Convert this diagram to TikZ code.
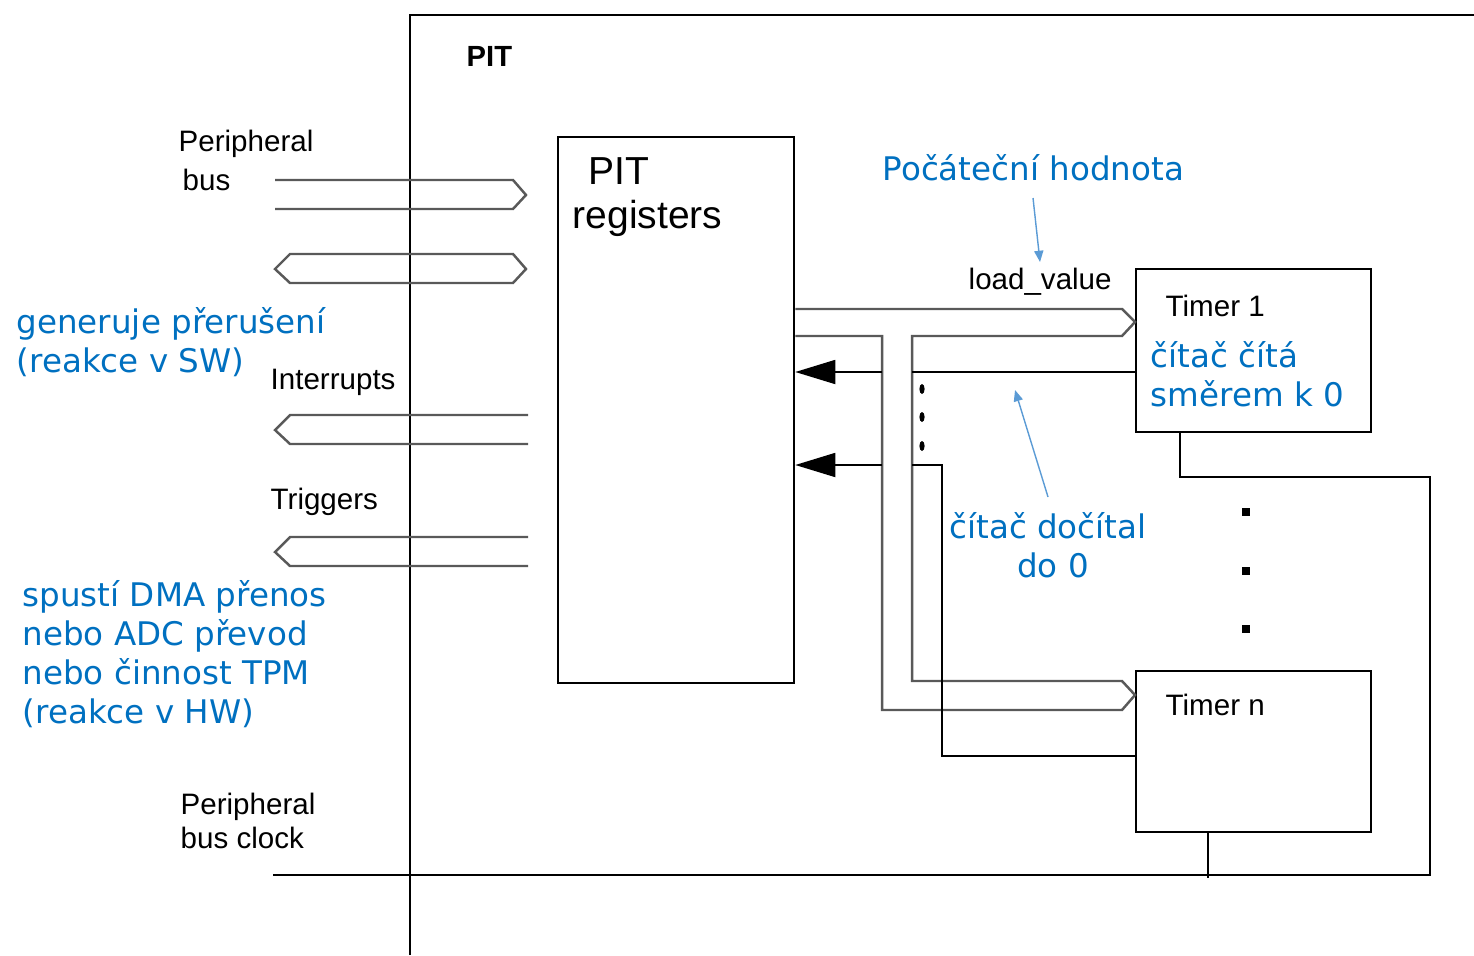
\documentclass[tikz,border=0pt]{standalone}
\usepackage{fontspec}
\setmainfont{Liberation Sans}
\newfontfamily\bluefont{DejaVu Sans}
\usetikzlibrary{arrows.meta}
\definecolor{annblue}{RGB}{0,112,192}
\definecolor{arrblue}{RGB}{91,155,213}
\begin{document}
\begin{tikzpicture}[x=0.01cm,y=-0.01cm,
  wire/.style={line width=0.6pt,black},
  bus/.style={line width=0.7pt,black!65,line join=miter},
  lbl/.style={inner sep=0pt,anchor=base west,font=\fontsize{8.4}{10}\selectfont},
  big/.style={inner sep=0pt,anchor=base west,font=\fontsize{11.1}{13}\selectfont},
  ann/.style={inner sep=0pt,anchor=base west,text=annblue,font=\bluefont\fontsize{9.25}{11}\selectfont},
  annc/.style={ann,anchor=base},
  box/.style={draw,line width=0.6pt,inner sep=0pt,anchor=north west},
  irq/.style={wire,-{Triangle[length=11.4pt,width=6.8pt]}},
  note/.style={line width=0.4pt,arrblue,-{Triangle[length=3.2pt,width=2.6pt]}}]
\useasboundingbox (0,0) rectangle (1474,955);

% outer PIT block
\coordinate (pitbl) at (410,955);
\coordinate (pittl) at (410,15);
\coordinate (pittr) at (1474,15);
\draw[wire] (pitbl) -- (pittl) -- (pittr);
\node[lbl,font=\bfseries\fontsize{8.3}{10}\selectfont] (pitlbl) at (466,67) {PIT};

% PIT registers
\node[box,minimum width=2.36cm,minimum height=5.46cm] (regs) at (557,136) {};
\node[big] (regs1) at (588,185) {PIT};
\node[big] (regs2) at (572,229) {registers};

% timers
\node[box,minimum width=2.35cm,minimum height=1.63cm] (t1) at (1135,268) {};
\node[lbl] (t1lbl) at (1165,317) {Timer 1};
\node[box,minimum width=2.35cm,minimum height=1.61cm] (tn) at (1135,670) {};
\node[lbl] (tnlbl) at (1165,715) {Timer n};

% dots between timers
\foreach \yy [count=\i] in {512,571,629}
  \fill (1242,\yy-4) rectangle (1250,\yy+4);
\foreach \yy in {389,417,446}
  \fill (922,\yy) ellipse (2.6 and 5);

% left labels
\node[lbl] (pb1) at (178,152) {Peripheral};
\node[lbl] (pb2) at (182,191) {bus};
\node[lbl] (intl) at (270,389) {Interrupts};
\node[lbl] (trgl) at (270,509) {Triggers};
\node[lbl] (pc1) at (180,814) {Peripheral};
\node[lbl] (pc2) at (180,848) {bus clock};
\node[lbl] (lv) at (968,290) {load\_value};

% left buses
\draw[bus] (275,180) -- (513,180) -- (526,195) -- (513,209) -- (275,209);
\draw[bus] (290,254) -- (513,254) -- (526,269) -- (513,283) -- (290,283) -- (275,269) -- cycle;
\draw[bus] (528,415) -- (290,415) -- (275,430) -- (290,444) -- (528,444);
\draw[bus] (528,537) -- (290,537) -- (275,552) -- (290,566) -- (528,566);

% load_value bus to timers
\draw[bus] (regs.east |- 0,309) -- (1122,309) -- (t1.west |- 0,322) -- (1122,336) -- (912,336)
  -- (912,681) -- (1122,681) -- (tn.west |- 0,695) -- (1122,710) -- (882,710) -- (882,336) -- (regs.east |- 0,336);

% interrupt lines
\coordinate (i1a) at (882,372);
\coordinate (i1b) at (912,372);
\coordinate (i2a) at (882,465);
\coordinate (i2b) at (912,465);
\draw[irq] (i1a) -- (regs.east |- i1a);
\draw[wire] (t1.west |- i1b) -- (i1b);
\draw[irq] (i2a) -- (regs.east |- i2a);
\draw[wire] (tn.west |- 0,756) -- (942,756) -- (942,465) -- (i2b);

% clock
\coordinate (clkl) at (273,875);
\coordinate (clkr) at (1430,875);
\draw[wire] (clkl) -- (clkr) -- (1430,477) -- (1180,477) -- (t1.south -| 1180,0);
\draw[wire] (tn.south -| 1208,0) -- (1208,878);

% annotations
\node[ann] (a1) at (882,181) {Počáteční hodnota};
\coordinate (a1s) at (1033,198);
\coordinate (a1e) at (1040,262);
\draw[note] (a1s) -- (a1e);
\node[ann] (a2a) at (1150,367) {čítač čítá};
\node[ann] (a2b) at (1150,406) {směrem k 0};
\node[annc] (a3a) at (1048,538) {čítač dočítal};
\node[annc] (a3b) at (1053,577) {do 0};
\coordinate (a3s) at (1048,497);
\coordinate (a3e) at (1015,390);
\draw[note] (a3s) -- (a3e);
\node[ann] (a4a) at (16,333) {generuje přerušení};
\node[ann] (a4b) at (16,372) {(reakce v SW)};
\node[ann] (a5a) at (22,606) {spustí DMA přenos};
\node[ann] (a5b) at (22,645) {nebo ADC převod};
\node[ann] (a5c) at (22,684) {nebo činnost TPM};
\node[ann] (a5d) at (22,723) {(reakce v HW)};
\end{tikzpicture}
\end{document}
